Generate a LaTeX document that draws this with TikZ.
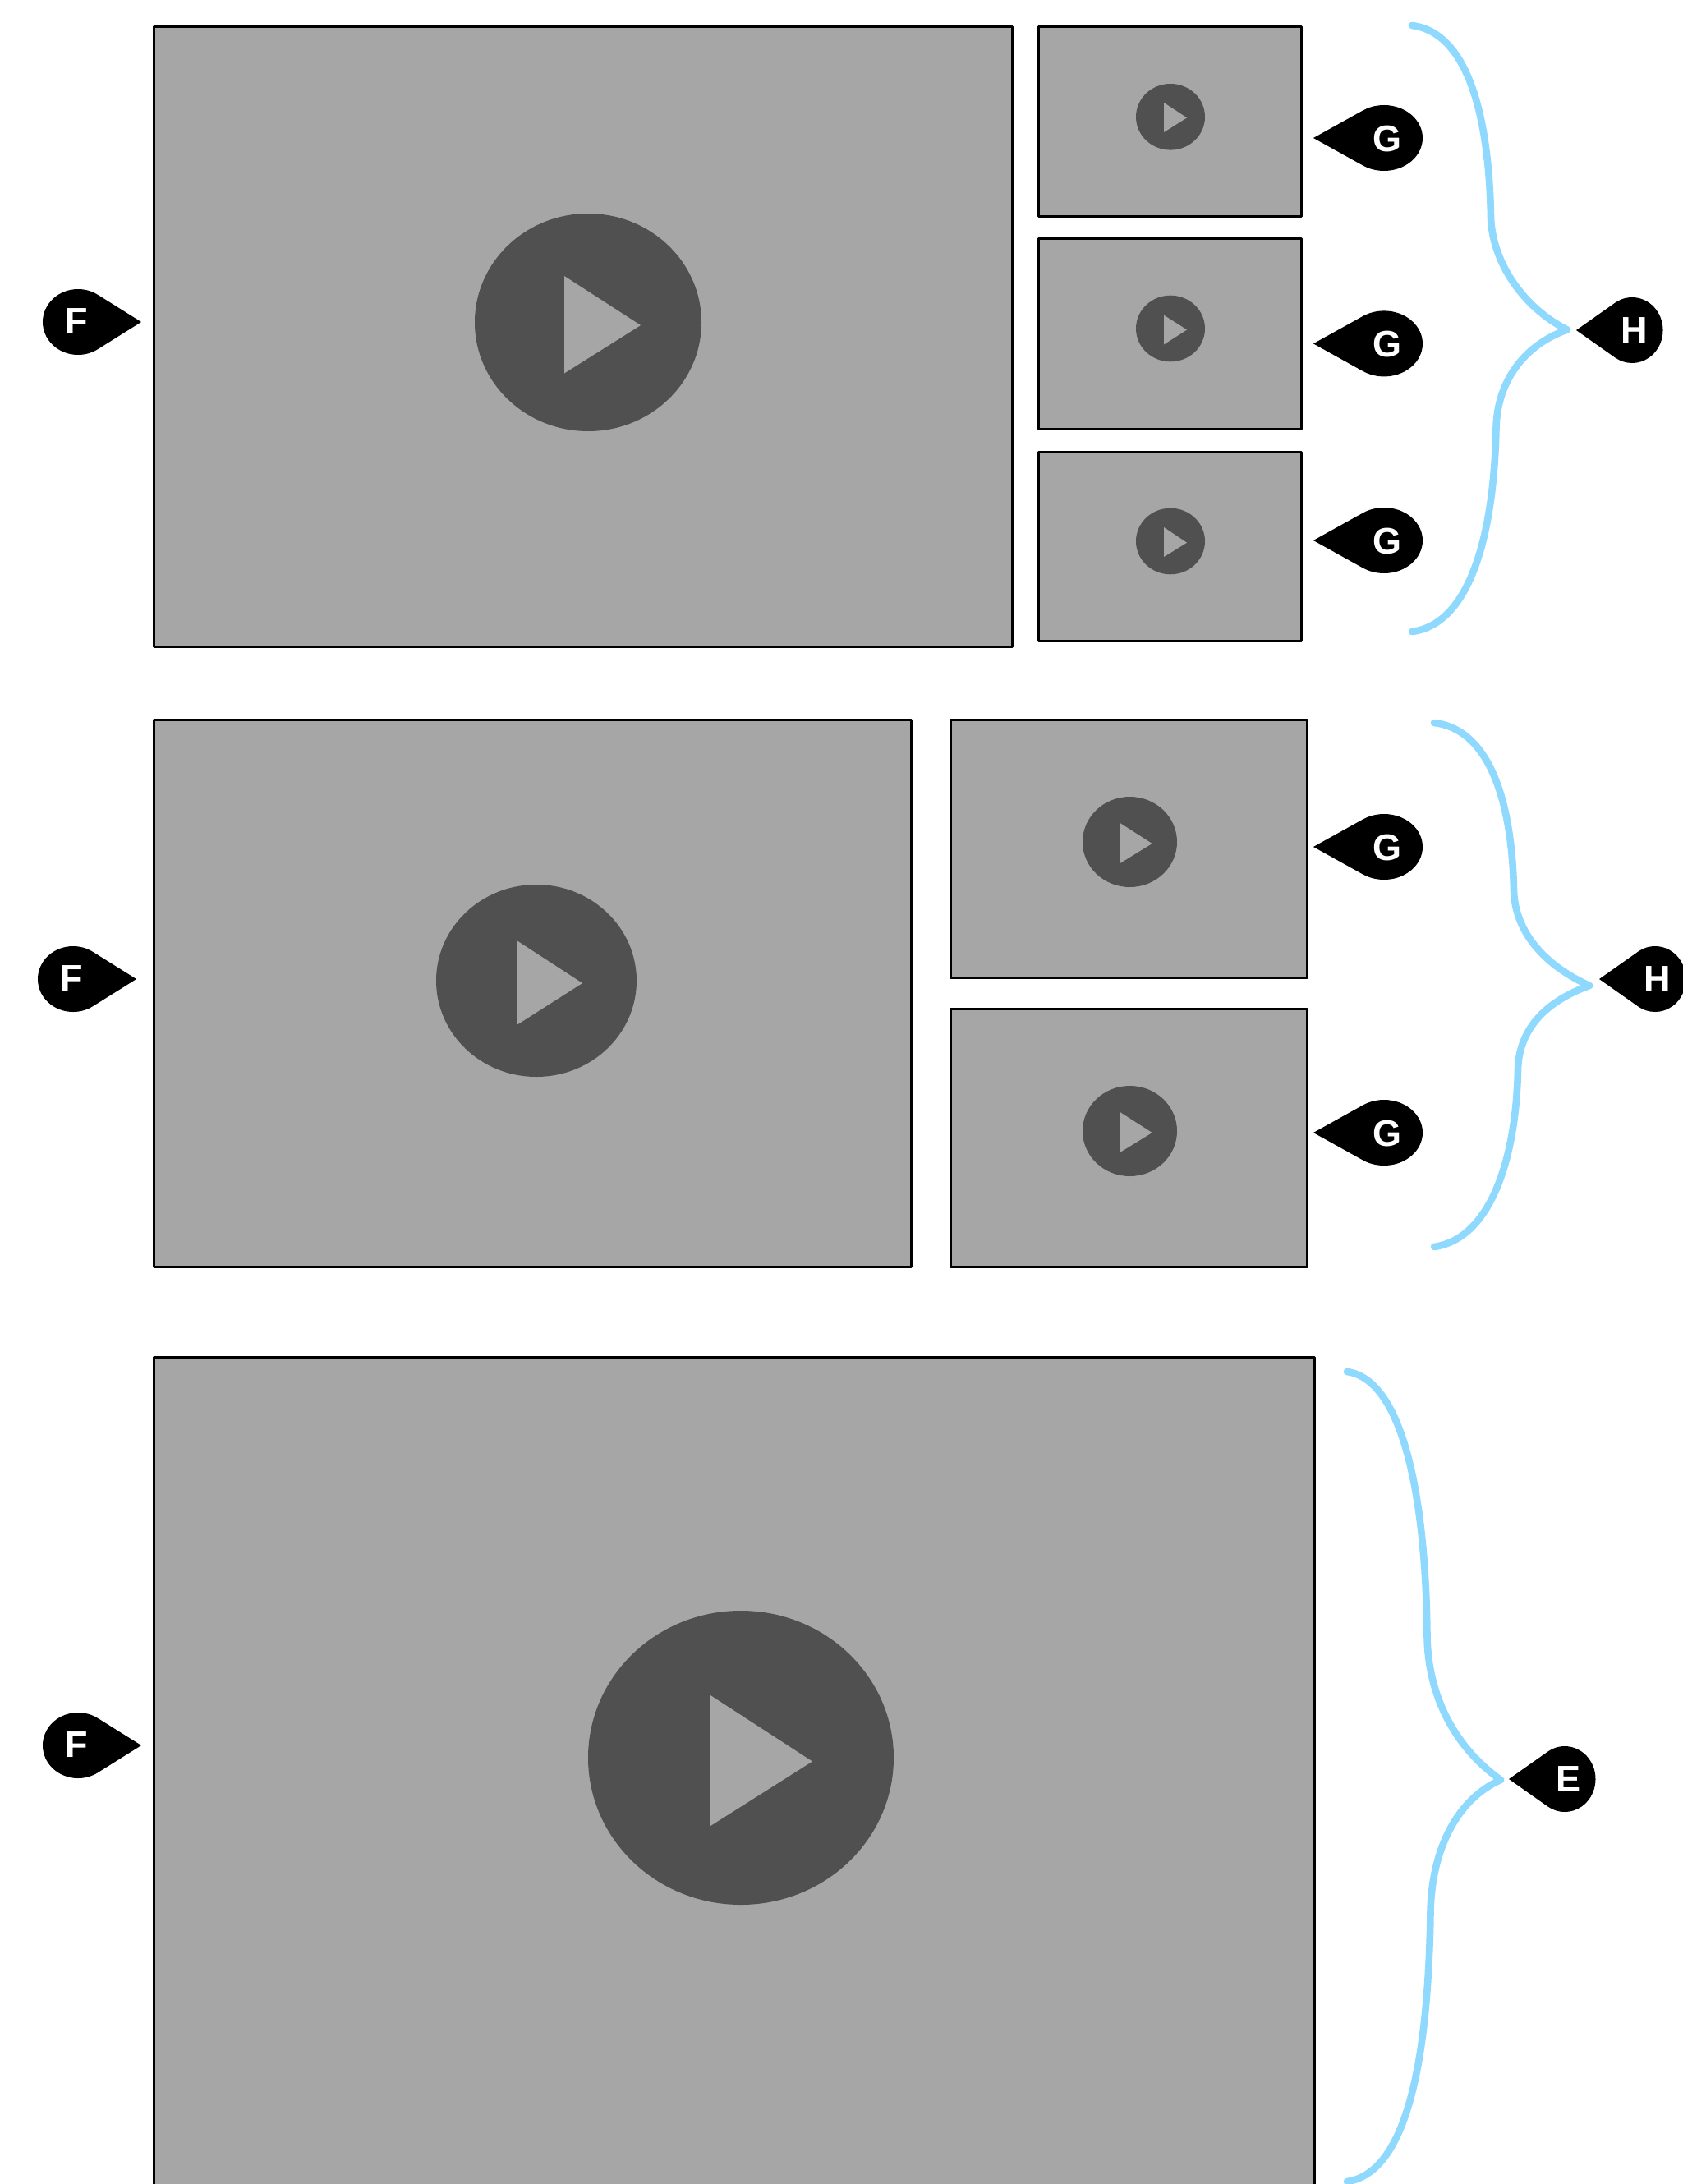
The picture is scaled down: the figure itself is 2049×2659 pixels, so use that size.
\documentclass[tikz,border=0pt]{standalone}
\usepackage{fontspec}
\setmainfont{Liberation Sans}
\definecolor{panel}{HTML}{A6A6A6}
\definecolor{disc}{HTML}{505050}
\definecolor{bracecol}{HTML}{8FD9FF}
\tikzset{
  panelbox/.style={fill=panel,draw=black,line width=1.5pt,line join=round},
  bracepath/.style={draw=bracecol,line width=4.3pt,line cap=round,line join=round,fill=none},
  tag/.style={inner sep=0pt,outer sep=0pt,text=white,font=\fontsize{22.5}{22.5}\bfseries\selectfont}
}
% name, letter, tip x, y, centre x, rx, ry, text x, text yshift
\newcommand\teardrop[9]{%
  \pgfmathsetmacro\tdir{(#3>#5)?1:-1}%
  \pgfmathsetmacro\tang{acos(#6/abs(#3-#5))}%
  \pgfmathsetmacro\tx{#5+\tdir*#6*cos(\tang)}%
  \pgfmathsetmacro\ty{#4-#7*sin(\tang)}%
  \pgfmathsetmacro\tstart{(\tdir>0)?\tang:180-\tang}%
  \pgfmathsetmacro\tend{(\tdir>0)?360-\tang:-180+\tang}%
  \fill[black] (#3,#4) -- (\tx,\ty) arc[start angle=\tstart,end angle=\tend,x radius=#6*0.5pt,y radius=#7*0.5pt] -- cycle;
  \node[tag,yshift=#9] (#1) at (#8,#4) {#2};
}
% cx, cy, rx, ry, tri x, tri top, tri bottom, tip x, tip y
\newcommand\playicon[9]{%
  \fill[disc] (#1,#2) ellipse[x radius=#3*0.5pt,y radius=#4*0.5pt];
  \fill[panel] (#5,#6) -- (#8,#9) -- (#5,#7) -- cycle;
}
\begin{document}
\begin{tikzpicture}[x=0.5pt,y=-0.5pt]
\useasboundingbox (0,0) rectangle (2049,2659);
\clip (0,0) rectangle (2049,2659);
% row 1
\path[panelbox] (187,32.5) rectangle (1232,787);
\playicon{716}{392.5}{138}{132.5}{687}{336}{454.5}{780}{396}
\path[panelbox] (1264,32.5) rectangle (1584,264);
\path[panelbox] (1264,291) rectangle (1584,522);
\path[panelbox] (1264,550) rectangle (1584,780.5);
\playicon{1425}{142.3}{42}{40.3}{1417}{125}{161}{1445}{143.4}
\playicon{1425}{400}{42}{40.3}{1417}{383.7}{419.4}{1445}{401.5}
\playicon{1425}{659}{42}{40.3}{1417}{642}{678}{1445}{660.7}
\teardrop{f1}{F}{172}{392}{95}{43}{40}{93.5}{0.4pt}
\teardrop{g1}{G}{1599}{168}{1685}{47}{40}{1689}{-0.5pt}
\teardrop{g2}{G}{1599}{418.4}{1685}{47}{40}{1689}{-0.5pt}
\teardrop{g3}{G}{1599}{658}{1685}{47}{40}{1689}{-0.5pt}
\teardrop{h1}{H}{1919}{402}{1987}{37.5}{40}{1990}{0pt}
\path[bracepath] (1719,31) .. controls (1790,40) and (1813,150) .. (1815,265)
  .. controls (1817,320) and (1855,375) .. (1908,401.5)
  .. controls (1855,420) and (1823,465) .. (1821.5,520)
  .. controls (1819,650) and (1790,760) .. (1719,769);
% row 2
\path[panelbox] (187,876) rectangle (1109,1542);
\playicon{653}{1194}{122}{117}{629}{1145}{1248}{709}{1197}
\path[panelbox] (1157,876) rectangle (1591,1190);
\path[panelbox] (1157,1228) rectangle (1591,1542);
\playicon{1375.5}{1025}{57.5}{55}{1363.6}{1002}{1051}{1402.6}{1027}
\playicon{1375.5}{1377}{57.5}{55}{1363.6}{1354}{1403}{1402.6}{1379}
\teardrop{f2}{F}{166}{1192}{89}{43}{40}{87.5}{0.4pt}
\teardrop{g4}{G}{1599}{1031}{1685}{47}{40}{1689}{-0.5pt}
\teardrop{g5}{G}{1599}{1379}{1685}{47}{40}{1689}{-0.5pt}
\teardrop{h2}{H}{1947}{1192}{2015}{37.5}{40}{2018}{0pt}
\path[bracepath] (1746,880) .. controls (1815,888) and (1841,980) .. (1843,1085)
  .. controls (1845,1135) and (1880,1175) .. (1935,1200)
  .. controls (1885,1218) and (1850,1250) .. (1848,1301)
  .. controls (1846,1410) and (1815,1508) .. (1746,1518);
% row 3
\path[panelbox] (187,1652) rectangle (1600,2700);
\playicon{902}{2140}{186}{179}{865}{2064}{2223}{989}{2144.5}
\teardrop{f3}{F}{172}{2125}{95}{43}{40}{93.5}{0.4pt}
\teardrop{e1}{E}{1837}{2166}{1905}{37.5}{40}{1909}{0pt}
\path[bracepath] (1640,1670) .. controls (1710,1680) and (1736,1830) .. (1737.5,1993)
  .. controls (1739,2070) and (1775,2130) .. (1827,2167)
  .. controls (1775,2190) and (1743,2250) .. (1741.5,2328)
  .. controls (1739,2500) and (1715,2645) .. (1640,2656);
\end{tikzpicture}
\end{document}
